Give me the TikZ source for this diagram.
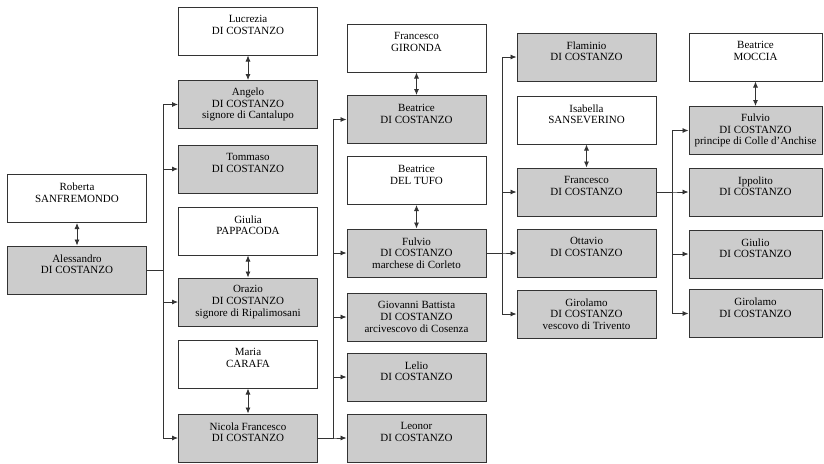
\documentclass[tikz,border=0pt]{standalone}
\usepackage{fontspec}
\setmainfont{Liberation Serif}
\usetikzlibrary{arrows.meta}

\begin{document}
\begin{tikzpicture}[x=1pt,y=-1pt,line width=0.8pt,color=black!80]
    \tikzstyle{person}=[rectangle,draw=black!80,line width=1pt,fill=gray!40,minimum width=139pt,minimum height=48pt,inner sep=1pt,align=center,font=\fontsize{11}{11.7}\selectfont,text=black]
    \tikzstyle{spouse}=[person,fill=white]
    \tikzstyle{child}=[-{Latex[length=6pt,width=5pt]}]
    \tikzstyle{wed}=[{Latex[length=6pt,width=5pt]}-{Latex[length=6pt,width=5pt]}]
    \useasboundingbox (0,0) rectangle (824,463);

    % first generation
    \node[spouse] (roberta) at (77,198.5) {Roberta\\SANFREMONDO\\\mbox{}};
    \node[person] (alessandro) at (77,270) {Alessandro\\DI COSTANZO\\\mbox{}};

    % second generation
    \node[spouse] (lucrezia) at (248,31) {Lucrezia\\DI COSTANZO\\\mbox{}};
    \node[person] (angelo) at (248,104.5) {Angelo\\DI COSTANZO\\signore di Cantalupo};
    \node[person] (tommaso) at (248,169) {Tommaso\\DI COSTANZO\\\mbox{}};
    \node[spouse] (giulia) at (248,231) {Giulia\\PAPPACODA\\\mbox{}};
    \node[person] (orazio) at (248,302) {Orazio\\DI COSTANZO\\signore di Ripalimosani};
    \node[spouse] (maria) at (248,364) {Maria\\CARAFA\\\mbox{}};
    \node[person] (nicola) at (248,438) {Nicola Francesco\\DI COSTANZO\\\mbox{}};

    % third generation
    \node[spouse] (gironda) at (416.5,48) {Francesco\\GIRONDA\\\mbox{}};
    \node[person] (beatrice) at (416.5,119.5) {Beatrice\\DI COSTANZO\\\mbox{}};
    \node[spouse] (deltufo) at (416.5,180.5) {Beatrice\\DEL TUFO\\\mbox{}};
    \node[person] (fulvio) at (416.5,253) {Fulvio\\DI COSTANZO\\marchese di Corleto};
    \node[person] (giovanni) at (416.5,317) {Giovanni Battista\\DI COSTANZO\\arcivescovo di Cosenza};
    \node[person] (lelio) at (416.5,377) {Lelio\\DI COSTANZO\\\mbox{}};
    \node[person] (leonor) at (416.5,438) {Leonor\\DI COSTANZO\\\mbox{}};

    % fourth generation
    \node[person] (flaminio) at (586.5,57) {Flaminio\\DI COSTANZO\\\mbox{}};
    \node[spouse] (isabella) at (586.5,120) {Isabella\\SANSEVERINO\\\mbox{}};
    \node[person] (francesco) at (586.5,192) {Francesco\\DI COSTANZO\\\mbox{}};
    \node[person] (ottavio) at (586.5,253) {Ottavio\\DI COSTANZO\\\mbox{}};
    \node[person] (girolamo) at (586.5,314) {Girolamo\\DI COSTANZO\\vescovo di Trivento};

    % fifth generation
    \node[spouse,minimum width=133pt] (moccia) at (755.5,57) {Beatrice\\MOCCIA\\\mbox{}};
    \node[person,minimum width=133pt] (fulviop) at (755.5,130.5) {Fulvio\\DI COSTANZO\\principe di Colle d'Anchise};
    \node[person,minimum width=133pt] (ippolito) at (755.5,192) {Ippolito\\DI COSTANZO\\\mbox{}};
    \node[person,minimum width=133pt] (giulio) at (755.5,254) {Giulio\\DI COSTANZO\\\mbox{}};
    \node[person,minimum width=133pt] (girolamol) at (755.5,313.5) {Girolamo\\DI COSTANZO\\\mbox{}};

    \coordinate (busA) at (163,0);
    \coordinate (busB) at (333,0);
    \coordinate (busC) at (502,0);
    \coordinate (busD) at (672,0);

    \foreach \from/\to in {roberta/alessandro, lucrezia/angelo, giulia/orazio, maria/nicola,
                           gironda/beatrice, deltufo/fulvio, isabella/francesco, moccia/fulviop}
        \draw[wed] (\from) -- (\to);

    \foreach \from/\bus/\kids in {alessandro/busA/{angelo,tommaso,orazio,nicola},
                                  nicola/busB/{beatrice,fulvio,giovanni,lelio,leonor},
                                  fulvio/busC/{flaminio,francesco,ottavio,girolamo},
                                  francesco/busD/{fulviop,ippolito,giulio,girolamol}}
        \foreach \to in \kids
            \draw[child] (\from.east) -- (\bus |- \from.east) |- (\to.west);
\end{tikzpicture}
\end{document}
